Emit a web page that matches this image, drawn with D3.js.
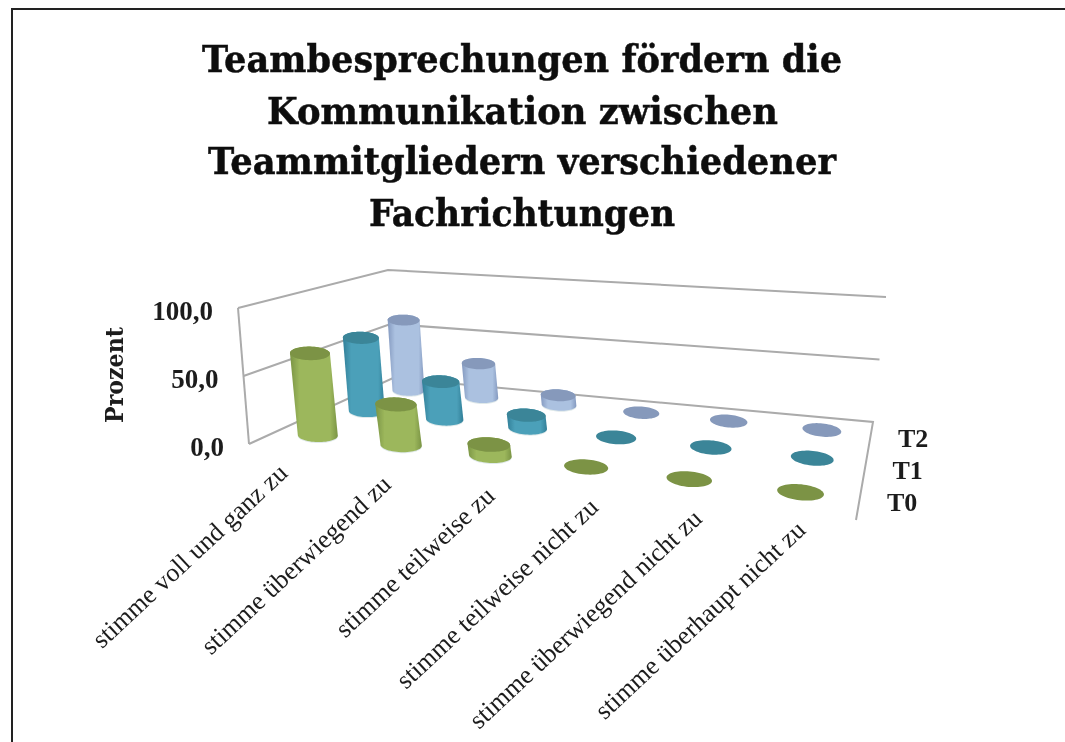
<!DOCTYPE html>
<html><head><meta charset="utf-8">
<script src="https://cdn.jsdelivr.net/npm/d3@7"></script>
<style>html,body{margin:0;padding:0;background:#fff}svg{display:block}text{font-family:"Liberation Serif",serif;fill:#1c1c1c}</style>
</head><body><svg id="c" width="1065" height="742"></svg>
<script>
const titleLines = ["Teambesprechungen fördern die","Kommunikation zwischen","Teammitgliedern verschiedener","Fachrichtungen"];
const categories = ["stimme voll und ganz zu","stimme überwiegend zu","stimme teilweise zu","stimme teilweise nicht zu","stimme überwiegend nicht zu","stimme überhaupt nicht zu"];
const seriesNames = ["T0","T1","T2"];
const valuesT0 = [62,30,8,0,0,0];
const valuesT1 = [60,30,10,0,0,0];
const valuesT2 = [62,29,8,0,0,0];
const seriesValues = [valuesT0,valuesT1,valuesT2];
const valueTicks = [0,50,100];
const bodyColors = ["#9cb75c","#4ba0b9","#abc1e0"];
const edgeColors = ["#7a9444","#317f98","#8499bf"];
const capColors  = ["#7b9345","#3b8598","#8699bb"];

function homography(p){
  const [[x0,y0],[x1,y1],[x2,y2],[x3,y3]]=p;
  const dx1=x1-x2,dx2=x3-x2,sx=x0-x1+x2-x3,dy1=y1-y2,dy2=y3-y2,sy=y0-y1+y2-y3;
  const d=dx1*dy2-dx2*dy1,g=(sx*dy2-dx2*sy)/d,h=(dx1*sy-sx*dy1)/d;
  const a=x1-x0+g*x1,b=x3-x0+h*x3,c=x0,e=y1-y0+g*y1,f=y3-y0+h*y3,i=y0;
  return (u,v)=>{const w=g*u+h*v+1;return [(a*u+b*v+c)/w,(e*u+f*v+i)/w];};
}
const floorH = homography([[249,444],[856,520],[873,422],[393,378]]);
const topH   = homography([[238,308],[872,363],[886,297],[388,270]]);
const uScale = d3.scaleBand().domain(d3.range(categories.length)).range([0,1]);
const vScale = d3.scaleBand().domain(seriesNames).range([0,1]);
const zScale = d3.scaleLinear().domain([0,100]).range([0,1]);
const catLabelX = d3.scalePoint().domain(categories).range([289,807]);
const catLabelY = d3.scalePoint().domain(categories).range([475,532]);
const serLabelX = d3.scalePoint().domain(seriesNames).range([887,898]);
const serLabelY = d3.scalePoint().domain(seriesNames).range([511,447]);
const rxByCategory = d3.scaleLinear().domain([0,categories.length-1]).range([0,3.5]);
const rxBySeries = d3.scalePoint().domain(seriesNames).range([20,16]);
const tiltByCategory = d3.scaleLinear().domain([0,categories.length-1]).range([1,6]);
function project(u,v,val){
  const a=floorH(u,v),b=topH(u,v),t=zScale(val);
  return [a[0]+(b[0]-a[0])*t,a[1]+(b[1]-a[1])*t];
}

const svg=d3.select("#c");
const defs=svg.append("defs");
const blur=defs.append("filter").attr("id","soft").attr("x","-5%").attr("y","-5%").attr("width","110%").attr("height","110%");
blur.append("feGaussianBlur").attr("stdDeviation",0.7);
seriesNames.forEach((s,k)=>{
  const g=defs.append("linearGradient").attr("id","grad"+s);
  [[0,edgeColors[k]],[.2,bodyColors[k]],[.5,bodyColors[k]],[.84,bodyColors[k]],[1,edgeColors[k]]].forEach(([o,c])=>
    g.append("stop").attr("offset",o).attr("stop-color",c));
});

svg.append("path").attr("d","M12,742V9H1065").attr("fill","none").attr("stroke","#222").attr("stroke-width",2);

const root=svg.append("g").attr("filter","url(#soft)");
const heavy='"DejaVu Serif",serif';

const titleY=[72,124,174,226], titleX=[202,267,208,369], titleW=[640,511,628,306];
root.selectAll("text.title").data(titleLines).join("text").attr("class","title")
  .attr("x",(d,i)=>titleX[i]).attr("y",(d,i)=>titleY[i]).attr("font-size",38).attr("font-weight","bold")
  .style("font-family",heavy).style("fill","#0c0c0c").style("stroke","#0c0c0c").style("stroke-width",0.5)
  .attr("textLength",(d,i)=>titleW[i]).attr("lengthAdjust","spacingAndGlyphs").text(d=>d);

const wallColor="#ababab";
const line=d3.line();
valueTicks.forEach(t=>{
  const pts=[project(0,0,t),project(0,1,t),project(1,1,t)];
  if(t===0) pts.push(project(1,0,t));
  root.append("path").attr("d",line(pts)).attr("fill","none").attr("stroke",wallColor).attr("stroke-width",2);
});
root.append("path").attr("d",line([project(0,0,0),project(0,0,100)])).attr("fill","none").attr("stroke",wallColor).attr("stroke-width",2);

root.selectAll("text.vt").data(valueTicks).join("text").attr("class","vt")
  .attr("x",t=>project(0,0,t)[0]-25).attr("y",t=>project(0,0,t)[1]+12)
  .attr("text-anchor","end").attr("font-size",27).attr("font-weight","bold")
  .text(t=>d3.format(".1f")(t).replace(".",","));
root.append("text").attr("transform","translate(123,375) rotate(-90)").attr("text-anchor","middle")
  .attr("font-size",24).attr("font-weight","bold").style("font-family",heavy)
  .attr("textLength",96).attr("lengthAdjust","spacingAndGlyphs").text("Prozent");

root.selectAll("text.st").data(seriesNames).join("text").attr("class","st")
  .attr("x",s=>serLabelX(s)).attr("y",s=>serLabelY(s))
  .attr("font-size",26).attr("font-weight","bold").text(s=>s);

root.selectAll("text.cat").data(categories).join("text").attr("class","cat")
  .attr("transform",c=>`translate(${catLabelX(c)},${catLabelY(c)}) rotate(-43)`)
  .attr("text-anchor","end").attr("font-size",26).text(c=>c);

const tt=d3.range(0,360,6).map(a=>a*Math.PI/180);
const flatness=0.34;
[2,1,0].forEach(k=>{
  const s=seriesNames[k];
  categories.forEach((c,i)=>{
    const u=uScale(i)+uScale.bandwidth()/2, v=vScale(s)+vScale.bandwidth()/2, val=seriesValues[k][i];
    const rx=rxBySeries(s)+rxByCategory(i), ry=rx*flatness, rot=tiltByCategory(i)*Math.PI/180;
    const ring=z=>{
      const ctr=project(u,v,z);
      return tt.map(a=>{const x=rx*Math.cos(a),y=ry*Math.sin(a);
        return [ctr[0]+x*Math.cos(rot)-y*Math.sin(rot),ctr[1]+x*Math.sin(rot)+y*Math.cos(rot)];});
    };
    const bot=ring(0), top=ring(val);
    if(val>0){
      root.append("path").attr("d",line(d3.polygonHull(bot.map(p=>[p[0],p[1]+1])))+"Z").attr("fill","#dfe9ea");
      root.append("path").attr("d",line(d3.polygonHull(bot.concat(top)))+"Z").attr("fill",`url(#grad${s})`);
    }
    root.append("path").attr("d",line(top)+"Z").attr("fill",capColors[k]);
  });
});
</script></body></html>
